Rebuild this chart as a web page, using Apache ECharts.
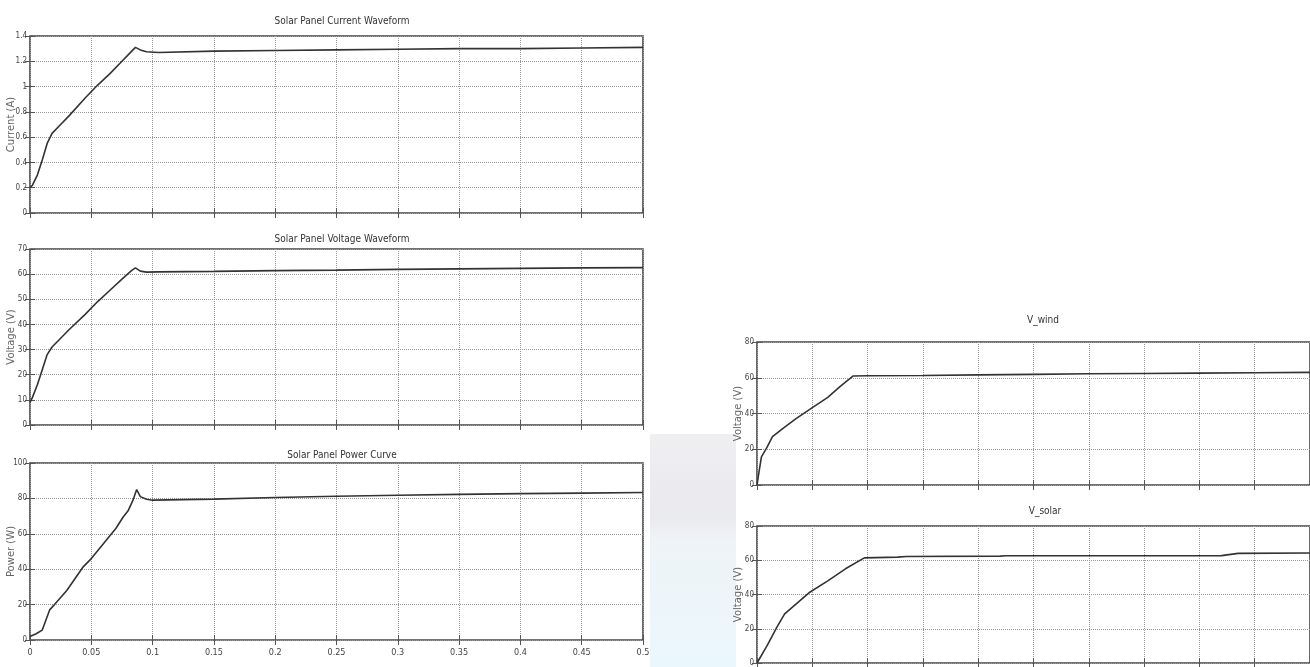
<!DOCTYPE html>
<html>
<head>
<meta charset="utf-8">
<script src="https://cdn.jsdelivr.net/npm/echarts@6/dist/echarts.min.js"></script>
<style>
html,body{margin:0;padding:0;background:#fff;}
#chart{width:1310px;height:667px;}
</style>
</head>
<body>
<div id="chart"></div>
<script>
// ---- data ----
const xTicks = [0, 0.05, 0.1, 0.15, 0.2, 0.25, 0.3, 0.35, 0.4, 0.45, 0.5];

const tCurrent = [0, 0.002, 0.006, 0.010, 0.014, 0.018, 0.024, 0.032, 0.045, 0.055, 0.065, 0.075, 0.083, 0.086, 0.090, 0.095, 0.105, 0.15, 0.2, 0.25, 0.3, 0.35, 0.4, 0.45, 0.5];
const current  = [0.2, 0.22, 0.30, 0.42, 0.55, 0.63, 0.69, 0.77, 0.91, 1.01, 1.10, 1.20, 1.28, 1.31, 1.29, 1.275, 1.27, 1.28, 1.285, 1.29, 1.295, 1.30, 1.30, 1.305, 1.31];

const tVoltage = [0, 0.002, 0.006, 0.010, 0.014, 0.018, 0.024, 0.032, 0.045, 0.055, 0.065, 0.075, 0.083, 0.086, 0.090, 0.095, 0.105, 0.15, 0.2, 0.25, 0.3, 0.35, 0.4, 0.45, 0.5];
const voltage  = [9, 11, 16, 22, 28, 31, 34, 38, 44, 49, 53.5, 58, 61.5, 62.5, 61.2, 60.8, 60.9, 61.1, 61.4, 61.6, 61.9, 62.1, 62.3, 62.5, 62.6];

const tPower = [0, 0.005, 0.010, 0.016, 0.020, 0.030, 0.043, 0.050, 0.057, 0.070, 0.076, 0.080, 0.084, 0.087, 0.090, 0.095, 0.100, 0.15, 0.2, 0.25, 0.3, 0.35, 0.4, 0.45, 0.5];
const power  = [2, 3.5, 5.6, 17, 20, 28, 41, 46, 52, 63, 69.5, 73, 79, 85, 81, 79.5, 79, 79.6, 80.5, 81.2, 81.8, 82.3, 82.7, 83, 83.3];

const tWind = [0, 0.002, 0.004, 0.009, 0.014, 0.025, 0.035, 0.047, 0.064, 0.075, 0.087, 0.1, 0.15, 0.2, 0.25, 0.3, 0.35, 0.4, 0.45, 0.5];
const vWind = [0, 8, 15.7, 21, 27, 32.4, 37, 42, 49, 55, 61, 61.1, 61.3, 61.6, 61.9, 62.2, 62.4, 62.6, 62.8, 63];

const tSolar = [0, 0.009, 0.018, 0.025, 0.047, 0.064, 0.080, 0.097, 0.127, 0.135, 0.22, 0.225, 0.42, 0.435, 0.5];
const vSolar = [0, 10, 21, 28.7, 41, 48, 55, 61.4, 61.8, 62.2, 62.4, 62.6, 62.7, 64, 64.2];

const panelTitles = ['Solar Panel Current Waveform', 'Solar Panel Voltage Waveform', 'Solar Panel Power Curve', 'V_wind', 'V_solar'];
const yNames = ['Current (A)', 'Voltage (V)', 'Power (W)', 'Voltage (V)', 'Voltage (V)'];
const yRanges = [[0, 1.4, 0.2], [0, 70, 10], [0, 100, 20], [0, 80, 20], [0, 80, 20]];

// ---- chart ----
const zip = (a, b) => a.map((t, i) => [t, b[i]]);
const seriesData = [zip(tCurrent, current), zip(tVoltage, voltage), zip(tPower, power), zip(tWind, vWind), zip(tSolar, vSolar)];

const grids = [
  {left: 30, top: 36, width: 613, height: 177},
  {left: 30, top: 249, width: 613, height: 176},
  {left: 30, top: 463, width: 613, height: 177},
  {left: 757, top: 342, width: 566, height: 143},
  {left: 757, top: 526, width: 566, height: 142}
];
const titlePos = [[337, 11], [337, 229], [337, 445], [1038, 310], [1040, 501]];
const narrow = '"Liberation Sans Narrow", "DejaVu Sans Condensed", "Roboto Condensed", sans-serif';

const option = {
  animation: false,
  backgroundColor: '#ffffff',
  title: panelTitles.map((t, i) => ({
    text: t, left: titlePos[i][0], top: titlePos[i][1], textAlign: 'center',
    textStyle: {fontFamily: narrow, fontSize: 10, fontWeight: 'normal', color: '#333'}
  })),
  grid: grids.map(g => Object.assign({show: true, borderColor: '#444', borderWidth: 1.6, backgroundColor: 'transparent'}, g)),
  xAxis: [],
  yAxis: [],
  series: [],
  graphic: [{
    type: 'rect', z: -10,
    shape: {x: 650, y: 434, width: 86, height: 233},
    style: {fill: {type: 'linear', x: 0, y: 0, x2: 0, y2: 1, colorStops: [
      {offset: 0, color: '#efeff2'}, {offset: 0.35, color: '#e9e9ee'}, {offset: 0.45, color: '#eef3f7'}, {offset: 1, color: '#eaf7fc'}]}}
  }]
};

grids.forEach((g, i) => {
  const showX = (i === 2);
  const [ymin, ymax, yint] = yRanges[i];
  option.xAxis.push({
    type: 'value', gridIndex: i, min: 0, max: 0.5, interval: 0.05, position: 'bottom',
    axisLine: {show: false},
    axisTick: {show: true, inside: true, length: 5, lineStyle: {color: '#555'}},
    axisLabel: {show: showX, fontFamily: narrow, fontSize: 9, color: '#444', margin: 8,
      formatter: v => { const m = xTicks.find(t => Math.abs(t - v) < 1e-9); return m === undefined ? '' : String(+m.toFixed(2)); }},
    splitLine: {show: true, lineStyle: {type: 'dotted', color: '#999', width: 1}}
  });
  option.xAxis.push({
    type: 'value', gridIndex: i, min: 0, max: 0.5, interval: 0.05, position: 'top',
    axisLine: {show: false}, axisLabel: {show: false}, splitLine: {show: false},
    axisTick: {show: true, inside: true, length: 5, lineStyle: {color: '#555'}}
  });
  option.yAxis.push({
    type: 'value', gridIndex: i, min: ymin, max: ymax, interval: yint, position: 'left',
    name: yNames[i], nameLocation: 'middle', nameRotate: 90, nameGap: 14,
    nameMoveOverlap: false,
    nameTextStyle: {fontFamily: 'DejaVu Sans', fontSize: 10, color: '#666'},
    axisLine: {show: false},
    axisTick: {show: true, inside: true, length: 5, lineStyle: {color: '#555'}},
    axisLabel: {fontFamily: narrow, fontSize: 8, color: '#444', margin: 3},
    splitLine: {show: true, lineStyle: {type: 'dotted', color: '#999', width: 1}}
  });
  option.yAxis.push({
    type: 'value', gridIndex: i, min: ymin, max: ymax, interval: yint, position: 'right',
    axisLine: {show: false}, axisLabel: {show: false}, splitLine: {show: false},
    axisTick: {show: true, inside: true, length: 5, lineStyle: {color: '#555'}}
  });
  option.series.push({
    type: 'line', xAxisIndex: 2 * i, yAxisIndex: 2 * i, data: seriesData[i],
    showSymbol: false, smooth: false, clip: true,
    lineStyle: {color: '#333', width: 1.6}
  });
});

const chart = echarts.init(document.getElementById('chart'), null, {renderer: 'canvas'});
chart.setOption(option);
</script>
</body>
</html>
